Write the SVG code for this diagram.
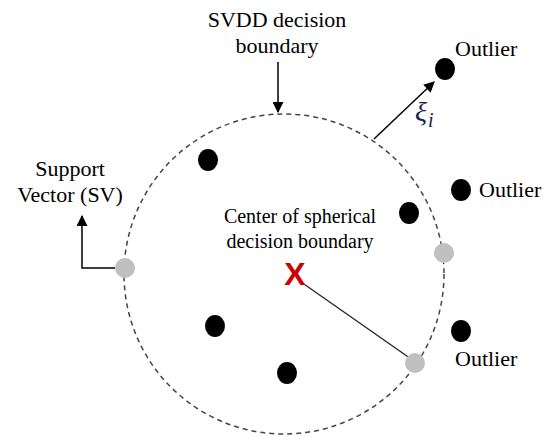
<svg xmlns="http://www.w3.org/2000/svg" width="547" height="437" viewBox="0 0 547 437">
<defs>
<marker id="ah" viewBox="0 0 10 10" refX="9" refY="5" markerWidth="11" markerHeight="11" markerUnits="userSpaceOnUse" orient="auto">
<path d="M0,0 L10,5 L0,10 z" fill="#000"/>
</marker>
<style>
text{font-family:"Liberation Serif","Times New Roman",serif;font-size:22px;fill:#000}
.pt{fill:#000}
.sv{fill:#c0c0c0}
.ln{stroke:#000;stroke-width:1.5;fill:none}
</style>
</defs>
<rect width="547" height="437" fill="#fff"/>
<g id="boundary">
<circle cx="284" cy="274" r="160" fill="none" stroke="#444" stroke-width="1.5" stroke-dasharray="5,4"/>
</g>
<g id="connectors">
<line class="ln" x1="278" y1="62" x2="278" y2="112" marker-end="url(#ah)"/>
<line class="ln" x1="374" y1="139" x2="434" y2="82" marker-end="url(#ah)"/>
<polyline class="ln" points="115,268 82,268 82,216" marker-end="url(#ah)"/>
<line x1="301" y1="282" x2="414" y2="361" stroke="#222" stroke-width="1.3"/>
</g>
<g id="label-svdd">
<text x="277" y="27" text-anchor="middle" font-size="23">SVDD decision</text>
<text x="277" y="53" text-anchor="middle" font-size="23">boundary</text>
</g>
<g id="label-sv">
<text x="70" y="176" text-anchor="middle">Support</text>
<text x="70" y="202" text-anchor="middle">Vector (SV)</text>
</g>
<g id="label-center">
<text x="300" y="223" text-anchor="middle" style="font-size:20px">Center of spherical</text>
<text x="300" y="248" text-anchor="middle" style="font-size:20px">decision boundary</text>
</g>
<g id="xi">
<text x="415" y="121" style="font-style:italic;font-size:28px;fill:#1c2450">ξ</text>
<text x="428" y="127" style="font-style:italic;font-size:20px;fill:#1c2450">i</text>
</g>
<g id="center">
<text x="295" y="285" text-anchor="middle" style="font-family:'Liberation Sans',Arial,sans-serif;font-weight:bold;font-size:32px;fill:#cc0000">X</text>
</g>
<g id="outlier1"><ellipse class="pt" cx="445" cy="69" rx="10" ry="11"/><text x="455" y="56">Outlier</text></g>
<g id="outlier2"><ellipse class="pt" cx="461" cy="190" rx="10" ry="11"/><text x="479" y="197">Outlier</text></g>
<g id="outlier3"><ellipse class="pt" cx="461" cy="331" rx="10" ry="11"/><text x="455" y="366">Outlier</text></g>
<g id="in1"><ellipse class="pt" cx="208" cy="160" rx="10" ry="11"/></g>
<g id="in2"><ellipse class="pt" cx="409" cy="213" rx="10" ry="11"/></g>
<g id="in3"><ellipse class="pt" cx="215" cy="326" rx="10" ry="11"/></g>
<g id="in4"><ellipse class="pt" cx="287" cy="373" rx="10" ry="11"/></g>
<g id="sv1"><circle class="sv" cx="125" cy="268" r="10"/></g>
<g id="sv2"><circle class="sv" cx="444" cy="253" r="10"/></g>
<g id="sv3"><circle class="sv" cx="415" cy="363" r="10"/></g>
</svg>
